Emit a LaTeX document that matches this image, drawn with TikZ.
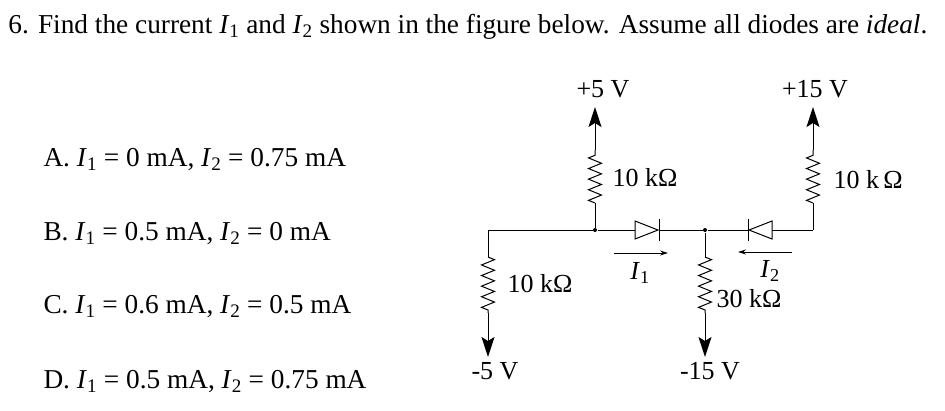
\documentclass[tikz,border=0pt]{standalone}
\usepackage{fontspec}
\setmainfont{Liberation Serif}
\usetikzlibrary{arrows.meta,decorations.pathmorphing}
\begin{document}
\begin{tikzpicture}[x=1pt,y=-1pt,line width=1pt,
  res/.style={decorate,decoration={zigzag,segment length=10.6pt,amplitude=6.5pt}},
  sup/.style={-{Stealth[length=20pt,width=13pt,inset=4pt]}},
  cur/.style={line width=0.8pt,-{Stealth[length=8pt,width=5pt]}},
  q/.style={font=\fontsize{27.3}{32}\selectfont,anchor=base west,inner sep=0},
  lab/.style={font=\fontsize{26}{30}\selectfont,inner sep=0},
  dot/.style={circle,fill,inner sep=0,minimum size=4pt}]
\useasboundingbox (0,0) rectangle (945,410);
\node[q] (qt) at (8,33) {6. Find the current \textit{I}\textsubscript{1} and \textit{I}\textsubscript{2} shown in the figure below. Assume all diodes are \textit{ideal}.};
\node[q] (a) at (43,166) {A. \textit{I}\textsubscript{1} = 0 mA, \textit{I}\textsubscript{2} = 0.75 mA};
\node[q] (b) at (43,240) {B. \textit{I}\textsubscript{1} = 0.5 mA, \textit{I}\textsubscript{2} = 0 mA};
\node[q] (c) at (43,313) {C. \textit{I}\textsubscript{1} = 0.6 mA, \textit{I}\textsubscript{2} = 0.5 mA};
\node[q] (d) at (43,388) {D. \textit{I}\textsubscript{1} = 0.5 mA, \textit{I}\textsubscript{2} = 0.75 mA};
% coordinates
\coordinate (L) at (488,230);
\node[dot] (A) at (595,230) {};
\node[dot] (B) at (705,230) {};
\coordinate (R) at (813,230);
\coordinate (d1a) at (635,230); \coordinate (d1k) at (659,230);
\coordinate (d2k) at (748,230); \coordinate (d2a) at (772,230);
% wires
\draw (L) -- (A) -- (d1a) (d1k) -- (B) -- (d2k) (d2a) -- (R);
% diodes
\draw (d1a) ++(0,-9) -- ++(0,18) -- (658,230) -- cycle;
\draw (d1k) ++(0,-11) -- ++(0,22);
\draw (d2a) ++(0,-9) -- ++(0,18) -- (749,230) -- cycle;
\draw (d2k) ++(0,-11) -- ++(0,22);
% top left resistor
\coordinate (t5) at (595,107);
\draw (A) -- (595,203);
\draw[res] (595,203) -- (595,150);
\draw[sup] (595,150) -- (t5);
\node[lab,anchor=south] (v5) at (603,98) {+5 V};
\node[lab,anchor=west] (r1) at (612,178) {10 kΩ};
% top right resistor
\coordinate (t15) at (813,107);
\draw (R) -- (813,203);
\draw[res] (813,203) -- (813,150);
\draw[sup] (813,150) -- (t15);
\node[lab,anchor=south] (v15) at (815,98) {+15 V};
\node[lab,anchor=west] (r2) at (833,180) {10 k\,Ω};
% bottom left
\coordinate (m5) at (488,357);
\draw (L) -- (488,257);
\draw[res] (488,257) -- (488,313);
\draw[sup] (488,313) -- (m5);
\node[lab,anchor=north] (vm5) at (495,362) {-5 V};
\node[lab,anchor=west] (r3) at (507,284) {10 kΩ};
% bottom middle
\coordinate (m15) at (705,357);
\draw (B) -- (705,257);
\draw[res] (705,257) -- (705,313);
\draw[sup] (705,313) -- (m15);
\node[lab,anchor=north] (vm15) at (710,362) {-15 V};
\node[lab,anchor=west] (r4) at (716,299) {30 kΩ};
% currents
\coordinate (i1s) at (614,253); \coordinate (i1e) at (668,253);
\draw[cur] (i1s) -- (i1e);
\node[lab] (I1) at (640,273) {\textit{I}\textsubscript{1}};
\coordinate (i2s) at (792,252); \coordinate (i2e) at (738,252);
\draw[cur] (i2s) -- (i2e);
\node[lab] (I2) at (770,271) {\textit{I}\textsubscript{2}};
\end{tikzpicture}
\end{document}
